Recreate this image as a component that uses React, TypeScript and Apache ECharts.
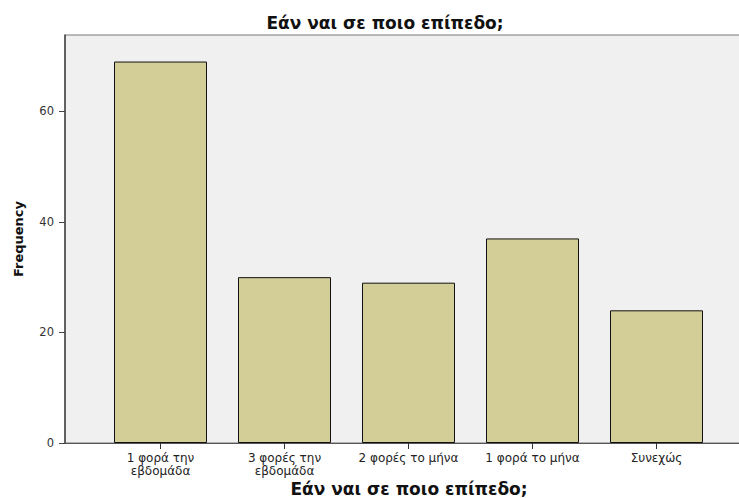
import React, { useEffect, useRef } from "react";
import * as echarts from "echarts";

const categories = ["1 φορά την\nεβδομάδα", "3 φορές την\nεβδομάδα", "2 φορές το μήνα", "1 φορά το μήνα", "Συνεχώς"];
const frequencies = [69, 30, 29, 37, 24];
const yTicks = [0, 20, 40, 60];
const chartTitle = "Εάν ναι σε ποιο επίπεδο;";
const xTitle = "Εάν ναι σε ποιο επίπεδο;";
const yTitle = "Frequency";

const Y_MAX = 73.8;
const FONT = "DejaVu Sans, sans-serif";

export default function App() {
  const ref = useRef<HTMLDivElement>(null);
  useEffect(() => {
    if (!ref.current) return;
    const chart = echarts.init(ref.current, undefined, { renderer: "svg" });
    chart.setOption({
      animation: false,
      backgroundColor: "#ffffff",
      title: {
        text: chartTitle,
        left: 380,
        textAlign: "center",
        top: 9,
        textStyle: { fontFamily: FONT, fontSize: 17, fontWeight: "bold", color: "#111" },
      },
      grid: [
        {
          left: 65, top: 35, right: -14, bottom: 55,
          outerBoundsMode: "none", containLabel: false,
          show: true, backgroundColor: "#f0f0f0", borderColor: "#777", borderWidth: 1,
        },
        { left: 98.5, top: 35, right: 20.5, bottom: 55, outerBoundsMode: "none", containLabel: false },
      ],
      xAxis: [
        {
          gridIndex: 0, type: "value", min: 0, max: 1,
          axisLine: { show: true, lineStyle: { color: "#555", width: 1 } },
          axisTick: { show: false }, axisLabel: { show: false }, splitLine: { show: false },
          name: xTitle, nameLocation: "middle", nameGap: 37,
          nameTextStyle: { fontFamily: FONT, fontSize: 17, fontWeight: "bold", color: "#111" },
        },
        {
          gridIndex: 1, type: "category", data: categories,
          axisLine: { show: false },
          axisTick: { show: true, alignWithLabel: true, length: 6, lineStyle: { color: "#333" } },
          axisLabel: { fontFamily: FONT, fontSize: 12, color: "#222", margin: 9, lineHeight: 12.5, interval: 0 },
        },
      ],
      yAxis: [
        {
          gridIndex: 0, type: "value", min: 0, max: Y_MAX, interval: 20,
          axisLine: { show: true, lineStyle: { color: "#444", width: 1.5 } },
          axisTick: { show: true, length: 6, lineStyle: { color: "#444" }, customValues: yTicks },
          axisLabel: { fontFamily: FONT, fontSize: 11.5, color: "#333", margin: 11, customValues: yTicks },
          splitLine: { show: false },
          name: yTitle, nameLocation: "middle", nameGap: 40, nameRotate: 90,
          nameTextStyle: { fontFamily: FONT, fontSize: 13, fontWeight: "bold", color: "#111" },
        },
        { gridIndex: 1, type: "value", min: 0, max: Y_MAX, show: false, splitLine: { show: false } },
      ],
      series: [
        {
          type: "bar", xAxisIndex: 1, yAxisIndex: 1, data: frequencies, barWidth: 93,
          itemStyle: { color: "#d3cd97", borderColor: "#111", borderWidth: 1 },
        },
      ],
    });
    return () => chart.dispose();
  }, []);
  return <div ref={ref} style={{ position: "fixed", left: 0, top: 0, width: 739, height: 498 }} />;
}
